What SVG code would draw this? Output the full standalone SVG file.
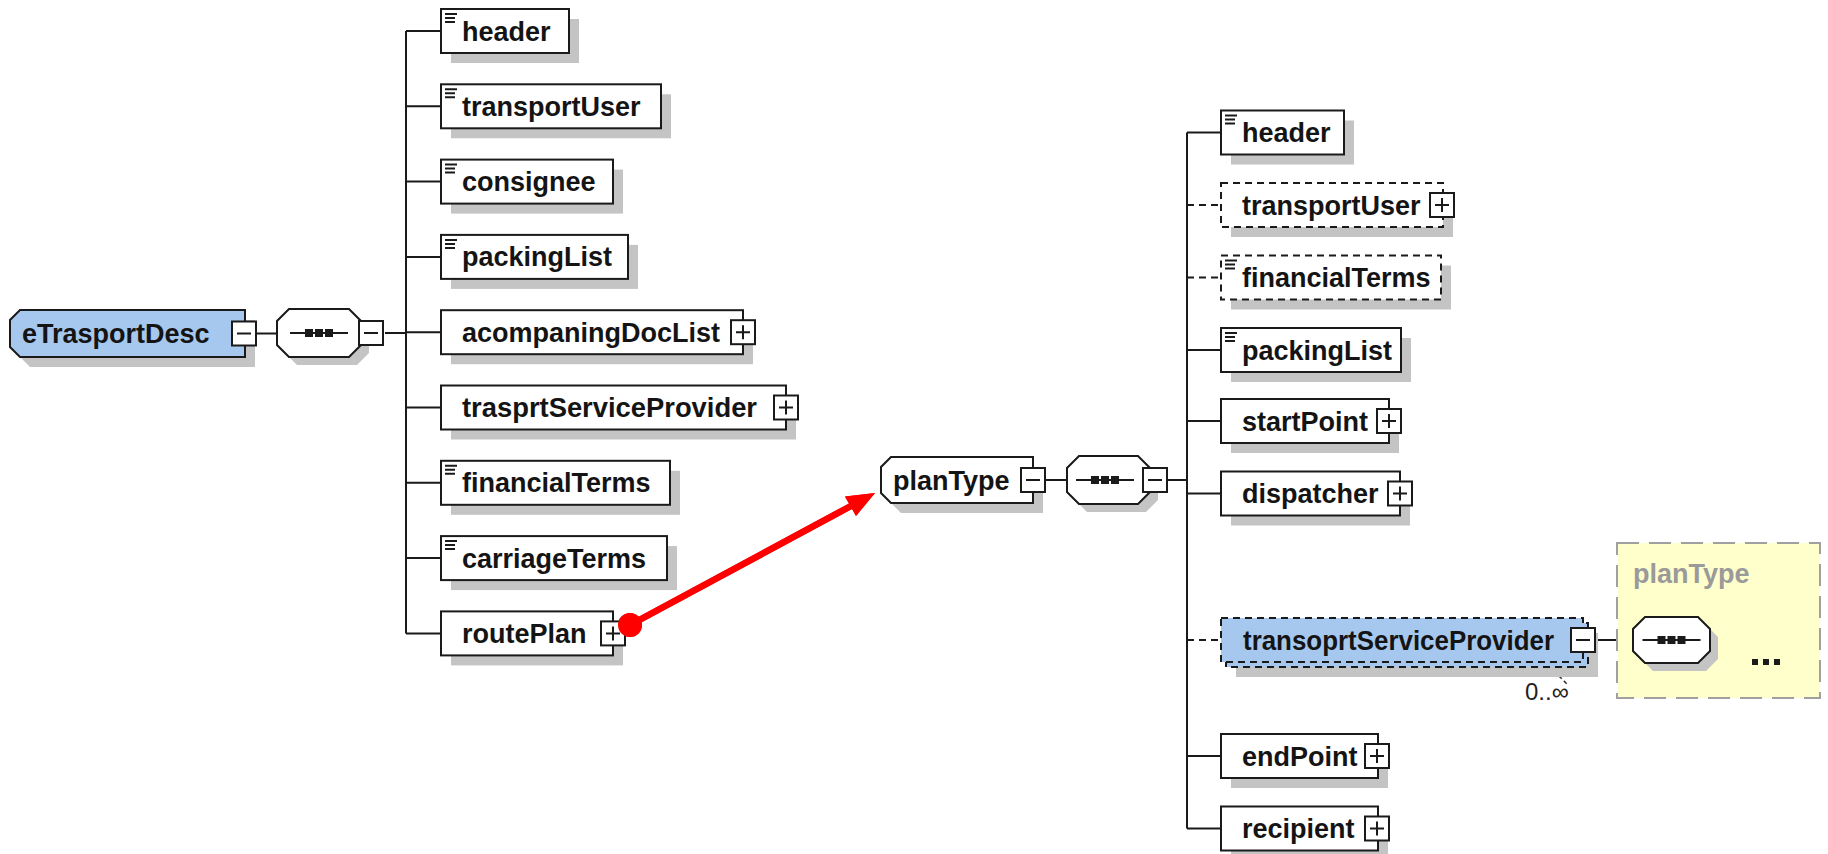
<svg xmlns="http://www.w3.org/2000/svg" xmlns:xlink="http://www.w3.org/1999/xlink" width="1828" height="854" viewBox="0 0 1828 854">
<style>
.bg{fill:#ffffff}
.box{fill:#ffffff;stroke:#1a1a1a;stroke-width:2}
.blue{fill:#a6c8ee;stroke:#1a1a1a;stroke-width:2}
.shadow{fill:#c4c4c4;stroke:none}
.dash{stroke-dasharray:7 5}
.lbl{font-family:"Liberation Sans",Arial,sans-serif;font-weight:bold;font-size:27px;fill:#141414}
.gray{font-family:"Liberation Sans",Arial,sans-serif;font-weight:bold;font-size:27px;fill:#9a9a9a}
.small{font-family:"Liberation Sans",Arial,sans-serif;font-size:24px;fill:#222}
.ln{stroke:#1a1a1a;stroke-width:2;fill:none}
.ico{stroke:#1a1a1a;stroke-width:2}
</style>
<defs>
<g id="plus"><rect x="-12" y="-12" width="24" height="24" fill="#fff" stroke="#1a1a1a" stroke-width="2"/><path d="M-7 0H7M0 -7V7" stroke="#1a1a1a" stroke-width="2"/></g>
<g id="minus"><rect x="-12" y="-12" width="24" height="24" fill="#fff" stroke="#1a1a1a" stroke-width="2"/><path d="M-7 0H7" stroke="#1a1a1a" stroke-width="2"/></g>
<g id="doc"><path d="M4 5H16M4 9H14M4 13H14" class="ico"/></g>
<g id="seqin"><path d="M-29 0H29" stroke="#1a1a1a" stroke-width="2"/><rect x="-14" y="-4" width="8" height="8" fill="#1a1a1a"/><rect x="-4" y="-4" width="8" height="8" fill="#1a1a1a"/><rect x="6" y="-4" width="8" height="8" fill="#1a1a1a"/></g>
</defs>
<rect class="bg" x="0" y="0" width="1828" height="854"/>

<g id="connectors">
<path class="ln" d="M256 333.5H277M385 333H406M406 31V633.4"/>
<path class="ln" d="M406 31H441M406 106.3H441M406 181.6H441M406 256.9H441M406 332.2H441M406 407.5H441M406 482.8H441M406 558.1H441M406 633.4H441"/>
<path class="ln" d="M1045 480H1067M1165 480H1187M1187 132.5V828.5"/>
<path class="ln" d="M1187 132.5H1221M1187 350H1221M1187 421H1221M1187 493.5H1221M1187 756H1221M1187 828.5H1221"/>
<path class="ln dash" d="M1187 205H1221M1187 277.5H1221M1187 640H1221"/>
<path class="ln" d="M1595 640H1633M1710 640H1743"/>
<path d="M1549 666L1567 684" stroke="#333" stroke-width="1.5" stroke-dasharray="4 3"/>
<g id="red-arrow">
<line x1="630" y1="625" x2="851" y2="506" stroke="#ff0000" stroke-width="6.5"/>
<polygon points="875,493 845,496.6 856,516" fill="#ff0000"/>
<circle cx="630" cy="625" r="12" fill="#ff0000"/>
</g>
</g>

<g id="eTrasportDesc">
<polygon class="shadow" points="30,320 255,320 255,367 30,367 20,357 20,330"/>
<polygon class="blue" points="20,310 245,310 245,357 20,357 10,347 10,320"/>
<text class="lbl" x="22" y="343">eTrasportDesc</text>
<use xlink:href="#minus" href="#minus" x="244" y="333.5"/>
</g>

<g id="seq1">
<polygon class="shadow" points="297,317 357,317 369,329 369,353 357,365 297,365 285,353 285,329"/>
<polygon class="box" points="289,309 349,309 361,321 361,345 349,357 289,357 277,345 277,321"/>
<use xlink:href="#seqin" href="#seqin" x="319" y="333"/>
<use xlink:href="#minus" href="#minus" x="371" y="333"/>
</g>

<g id="l-header">
<rect class="shadow" x="451" y="19" width="128" height="44"/>
<rect class="box" x="441" y="9" width="128" height="44"/>
<use xlink:href="#doc" href="#doc" x="441" y="9"/>
<text class="lbl" x="462" y="40.5">header</text>
</g>
<g id="l-transportUser">
<rect class="shadow" x="451" y="94.3" width="220" height="44"/>
<rect class="box" x="441" y="84.3" width="220" height="44"/>
<use xlink:href="#doc" href="#doc" x="441" y="84.3"/>
<text class="lbl" x="462" y="115.8">transportUser</text>
</g>
<g id="l-consignee">
<rect class="shadow" x="451" y="169.6" width="172" height="44"/>
<rect class="box" x="441" y="159.6" width="172" height="44"/>
<use xlink:href="#doc" href="#doc" x="441" y="159.6"/>
<text class="lbl" x="462" y="191.1">consignee</text>
</g>
<g id="l-packingList">
<rect class="shadow" x="451" y="244.9" width="187" height="44"/>
<rect class="box" x="441" y="234.9" width="187" height="44"/>
<use xlink:href="#doc" href="#doc" x="441" y="234.9"/>
<text class="lbl" x="462" y="266.4">packingList</text>
</g>
<g id="l-acompaningDocList">
<rect class="shadow" x="451" y="320.2" width="302" height="44"/>
<rect class="box" x="441" y="310.2" width="302" height="44"/>
<text class="lbl" x="462" y="341.7">acompaningDocList</text>
<use xlink:href="#plus" href="#plus" x="743" y="332.2"/>
</g>
<g id="l-trasprtServiceProvider">
<rect class="shadow" x="451" y="395.5" width="345" height="44"/>
<rect class="box" x="441" y="385.5" width="345" height="44"/>
<text class="lbl" x="462" y="417" textLength="295" lengthAdjust="spacingAndGlyphs">trasprtServiceProvider</text>
<use xlink:href="#plus" href="#plus" x="786" y="407.5"/>
</g>
<g id="l-financialTerms">
<rect class="shadow" x="451" y="470.8" width="229" height="44"/>
<rect class="box" x="441" y="460.8" width="229" height="44"/>
<use xlink:href="#doc" href="#doc" x="441" y="460.8"/>
<text class="lbl" x="462" y="492.3">financialTerms</text>
</g>
<g id="l-carriageTerms">
<rect class="shadow" x="451" y="546.1" width="226" height="44"/>
<rect class="box" x="441" y="536.1" width="226" height="44"/>
<use xlink:href="#doc" href="#doc" x="441" y="536.1"/>
<text class="lbl" x="462" y="567.6">carriageTerms</text>
</g>
<g id="l-routePlan">
<rect class="shadow" x="451" y="621.4" width="172" height="44"/>
<rect class="box" x="441" y="611.4" width="172" height="44"/>
<text class="lbl" x="462" y="642.9">routePlan</text>
<use xlink:href="#plus" href="#plus" x="613" y="633.4"/>
</g>
<use xlink:href="#red-arrow" href="#red-arrow"/>

<g id="planType">
<polygon class="shadow" points="901,467 1043,467 1043,513 901,513 891,503 891,477"/>
<polygon class="box" points="891,457 1033,457 1033,503 891,503 881,493 881,467"/>
<text class="lbl" x="893" y="489.5">planType</text>
<use xlink:href="#minus" href="#minus" x="1033" y="480"/>
</g>

<g id="seq2">
<polygon class="shadow" points="1087,464 1146,464 1158,476 1158,500 1146,512 1087,512 1075,500 1075,476"/>
<polygon class="box" points="1079,456 1138,456 1150,468 1150,492 1138,504 1079,504 1067,492 1067,468"/>
<use xlink:href="#seqin" href="#seqin" x="1105" y="480"/>
<use xlink:href="#minus" href="#minus" x="1155" y="480"/>
</g>

<g id="r-header">
<rect class="shadow" x="1231" y="120.5" width="123" height="44"/>
<rect class="box" x="1221" y="110.5" width="123" height="44"/>
<use xlink:href="#doc" href="#doc" x="1221" y="110.5"/>
<text class="lbl" x="1242" y="142">header</text>
</g>
<g id="r-transportUser">
<rect class="shadow" x="1231" y="193" width="222" height="44"/>
<rect class="box dash" x="1221" y="183" width="222" height="44"/>
<text class="lbl" x="1242" y="214.5">transportUser</text>
<use xlink:href="#plus" href="#plus" x="1442" y="205"/>
</g>
<g id="r-financialTerms">
<rect class="shadow" x="1231" y="265.5" width="220" height="44"/>
<rect class="box dash" x="1221" y="255.5" width="220" height="44"/>
<use xlink:href="#doc" href="#doc" x="1221" y="255.5"/>
<text class="lbl" x="1242" y="287">financialTerms</text>
</g>
<g id="r-packingList">
<rect class="shadow" x="1231" y="338" width="180" height="44"/>
<rect class="box" x="1221" y="328" width="180" height="44"/>
<use xlink:href="#doc" href="#doc" x="1221" y="328"/>
<text class="lbl" x="1242" y="359.5">packingList</text>
</g>
<g id="r-startPoint">
<rect class="shadow" x="1231" y="409" width="168" height="44"/>
<rect class="box" x="1221" y="399" width="168" height="44"/>
<text class="lbl" x="1242" y="430.5">startPoint</text>
<use xlink:href="#plus" href="#plus" x="1389" y="421"/>
</g>
<g id="r-dispatcher">
<rect class="shadow" x="1231" y="481.5" width="179" height="44"/>
<rect class="box" x="1221" y="471.5" width="179" height="44"/>
<text class="lbl" x="1242" y="503">dispatcher</text>
<use xlink:href="#plus" href="#plus" x="1400" y="493.5"/>
</g>
<g id="r-transoprtServiceProvider">
<rect class="shadow" x="1236" y="633" width="362" height="44"/>
<rect class="blue dash" x="1226" y="623" width="362" height="44"/>
<rect class="blue dash" x="1221" y="618" width="362" height="44"/>
<text class="lbl" x="1243" y="649.5" textLength="311" lengthAdjust="spacingAndGlyphs">transoprtServiceProvider</text>
<use xlink:href="#minus" href="#minus" x="1583" y="640"/>
<text class="small" x="1525" y="700">0..∞</text>
</g>
<g id="r-endPoint">
<rect class="shadow" x="1231" y="744" width="157" height="44"/>
<rect class="box" x="1221" y="734" width="157" height="44"/>
<text class="lbl" x="1242" y="765.5">endPoint</text>
<use xlink:href="#plus" href="#plus" x="1377" y="756"/>
</g>
<g id="r-recipient">
<rect class="shadow" x="1231" y="816.5" width="157" height="44"/>
<rect class="box" x="1221" y="806.5" width="157" height="44"/>
<text class="lbl" x="1242" y="838">recipient</text>
<use xlink:href="#plus" href="#plus" x="1377" y="828.5"/>
</g>

<g id="planType-ref">
<rect x="1617" y="543" width="203" height="155" fill="#ffffcc" stroke="#a0a0a0" stroke-width="2" stroke-dasharray="22 10"/>
<text class="gray" x="1633" y="583">planType</text>
<polygon class="shadow" points="1653,625 1706,625 1718,637 1718,659 1706,671 1653,671 1641,659 1641,637"/>
<polygon class="box" points="1645,617 1698,617 1710,629 1710,651 1698,663 1645,663 1633,651 1633,629"/>
<use xlink:href="#seqin" href="#seqin" x="1671.5" y="640"/>
<rect x="1752" y="659" width="6" height="6" fill="#1a1a1a"/>
<rect x="1763" y="659" width="6" height="6" fill="#1a1a1a"/>
<rect x="1774" y="659" width="6" height="6" fill="#1a1a1a"/>
</g>
</svg>
